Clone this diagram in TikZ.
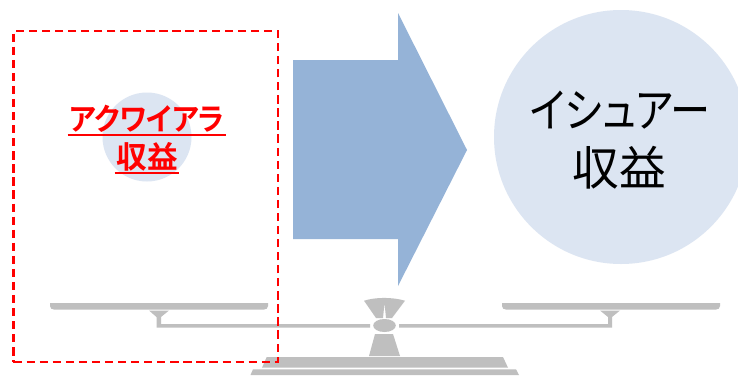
\documentclass[tikz,border=0pt]{standalone}
\usetikzlibrary{shapes.geometric}
\usepackage{fontspec}
\newfontfamily\cjk[BoldFont={Noto Sans CJK JP Bold},RawFeature={+palt}]{Noto Sans CJK JP}
\definecolor{pale}{HTML}{DCE5F2}
\definecolor{arrowblue}{HTML}{95B3D7}
\definecolor{scalegray}{HTML}{BFBFBF}
\tikzset{
  scalepart/.style={fill=scalegray,draw=none},
  redlabel/.style={text=red,font=\cjk\bfseries\fontsize{23}{23}\selectfont,inner sep=0pt},
  biglabel/.style={text=black,font=\cjk\fontsize{35}{35}\selectfont,inner sep=0pt},
  redrule/.style={draw=red,line width=1.3pt},
}
\begin{document}
\begin{tikzpicture}[x=0.75pt,y=-0.75pt]
\useasboundingbox (0,0) rectangle (738,375);
\fill[white] (0,0) rectangle (738,375);
% circles
\node[circle,fill=pale,minimum size=66.75pt,inner sep=0pt] (smallc) at (147,137) {};
\begin{scope}
\clip (0,0) rectangle (738,375);
\node[circle,fill=pale,minimum size=190.5pt,inner sep=0pt] (bigc) at (621,137) {};
\end{scope}
% arrow
\fill[arrowblue] (293,60) -- (398,60) -- (398,13) -- (467,150) -- (398,286) -- (398,239) -- (293,239) -- cycle;
% scale
\fill[scalepart] (50,303) -- (268,303) -- (268,306) .. controls (268,308.5) and (266,309.5) .. (264,309.5) -- (54,309.5) .. controls (52,309.5) and (50,308.5) .. (50,306) -- cycle;
\fill[scalepart] (502,303) -- (720,303) -- (720,306) .. controls (720,308.5) and (718,309.5) .. (716,309.5) -- (506,309.5) .. controls (504,309.5) and (502,308.5) .. (502,306) -- cycle;
\fill[scalepart] (149,310.5) -- (169,310.5) -- (161,317) -- (161,324) -- (370,324) -- (370,327.5) -- (156.5,327.5) -- (156.5,317) -- cycle;
\fill[scalepart] (600,310.5) -- (620,310.5) -- (612,317) -- (612,327.5) -- (399,327.5) -- (399,324) -- (608,324) -- (608,317) -- cycle;
\fill[scalepart] (364,300.7) .. controls (376,297) and (392,297) .. (405,300.7) -- (392,318) -- (386,318) -- (384.5,303) -- (383,318) -- (376,318) -- cycle;
\node[ellipse,fill=scalegray,minimum width=17pt,minimum height=9.75pt,inner sep=0pt] (pivot) at (384.5,325.5) {};
\fill[scalepart] (375,334) -- (393,334) -- (400,356) -- (369,356) -- cycle;
\fill[scalepart] (266.7,357) -- (503,357) -- (508,367.7) -- (262,367.7) -- cycle;
\fill[scalepart] (253,369.3) -- (516,369.3) -- (519,375) -- (250.5,375) -- cycle;
% dashed
\node[draw=red,line width=1.6pt,dash pattern=on 6.2pt off 3.6pt,minimum width=198.4pt,minimum height=248pt,inner sep=0pt] (box) at (145.75,196.3) {};
% labels
\node[redlabel,xscale=0.93,transform shape] (aq) at (147,119) {アクワイアラ};
\node[redlabel] (rev) at (147,157) {収益};
\draw[redrule] ([xshift=-1pt]aq.base west |- 0,135.2) -- ([xshift=1pt]aq.base east |- 0,135.2);
\draw[redrule] ([xshift=-1pt]rev.base west |- 0,172.7) -- ([xshift=1pt]rev.base east |- 0,172.7);
\node[biglabel,xscale=0.86,transform shape] (is) at (620,110) {イシュアー};
\node[biglabel] (rev2) at (619.5,167.5) {収益};
\end{tikzpicture}
\end{document}
